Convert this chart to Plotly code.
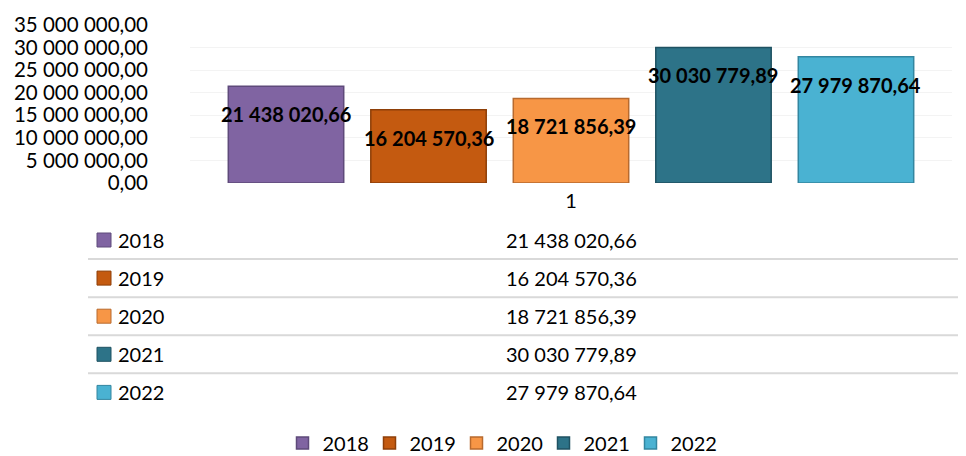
import plotly.graph_objects as go

# ---- data ----
years = ["2018", "2019", "2020", "2021", "2022"]
values = [21438020.66, 16204570.36, 18721856.39, 30030779.89, 27979870.64]
value_labels = ["21 438 020,66", "16 204 570,36", "18 721 856,39", "30 030 779,89", "27 979 870,64"]
category = ["1"]
ytick_vals = [0, 5e6, 10e6, 15e6, 20e6, 25e6, 30e6, 35e6]
ytick_text = ["0,00", "5 000 000,00", "10 000 000,00", "15 000 000,00", "20 000 000,00",
              "25 000 000,00", "30 000 000,00", "35 000 000,00"]

# ---- styles ----
colors = ["#8064A2", "#C45A10", "#F79646", "#2D7388", "#4AB2D2"]
edges = ["#5E4A7A", "#8E3F08", "#B86A2E", "#1F5262", "#3386A0"]
FONT = "Lato"
OFF = 8  # page body margin
W, H = 966 - OFF, 456 - OFF


def px(x):
    return (x - OFF) / W


def py(y):
    return 1 - (y - OFF) / H


bargap = 0.065
bargroupgap = 0.19
slot = (1 - bargap) / len(years)

fig = go.Figure()
for i, yr in enumerate(years):
    fig.add_trace(go.Bar(
        x=category, y=[values[i]], name=yr,
        marker=dict(color=colors[i], line=dict(color=edges[i], width=1.5)),
        hoverinfo="skip",
    ))

annotations = []
# data labels
for i, lab in enumerate(value_labels):
    annotations.append(dict(
        x=(i - (len(years) - 1) / 2) * slot, xref="x", y=values[i], yref="y",
        text="<b>" + lab + "</b>", showarrow=False, yshift=-28,
        font=dict(family=FONT, size=20, color="#000000"),
    ))

# data table
shapes = []
row0, row_h = 240, 38.1
for i, yr in enumerate(years):
    yc = row0 + i * row_h
    shapes.append(dict(type="rect", xref="paper", yref="paper",
                       x0=px(97), x1=px(111), y0=py(yc + 7), y1=py(yc - 7),
                       fillcolor=colors[i], line=dict(color=edges[i], width=1)))
    annotations.append(dict(x=px(116), xref="paper", y=py(yc), yref="paper",
                            xanchor="left", yanchor="middle", text=yr, showarrow=False,
                            font=dict(family=FONT, size=20, color="#000000")))
    annotations.append(dict(x=0, xref="x", y=py(yc), yref="paper",
                            xanchor="center", yanchor="middle", text=value_labels[i], showarrow=False,
                            font=dict(family=FONT, size=20, color="#000000")))
    if i < len(years) - 1:
        ys = yc + row_h / 2
        shapes.append(dict(type="line", xref="paper", yref="paper",
                           x0=px(88), x1=1, y0=py(ys), y1=py(ys),
                           line=dict(color="#D9D9D9", width=2)))

fig.update_layout(
    width=W, height=H,
    margin=dict(l=0, r=0, t=0, b=0, autoexpand=False),
    paper_bgcolor="white", plot_bgcolor="white",
    barmode="group", bargap=bargap, bargroupgap=bargroupgap,
    font=dict(family=FONT, size=20, color="#000000"),
    xaxis=dict(domain=[px(190), px(952)], showgrid=False, showline=False,
               ticks="", ticklabelstandoff=4, tickfont=dict(size=20), automargin=False),
    yaxis=dict(domain=[py(183), py(25)], range=[0, 35e6], tickvals=ytick_vals,
               ticktext=ytick_text, showgrid=True, gridcolor="#F3F3F3", gridwidth=1,
               zeroline=False, showline=False, ticks="", ticklabelstandoff=41,
               tickfont=dict(size=20.5), automargin=False),
    legend=dict(orientation="h", x=px(500), xanchor="center", y=py(443), yanchor="middle",
                yref="container", xref="container", entrywidth=42,
                font=dict(size=20), itemwidth=30, traceorder="normal"),
    annotations=annotations, shapes=shapes,
)

fig.write_html("out.html")
